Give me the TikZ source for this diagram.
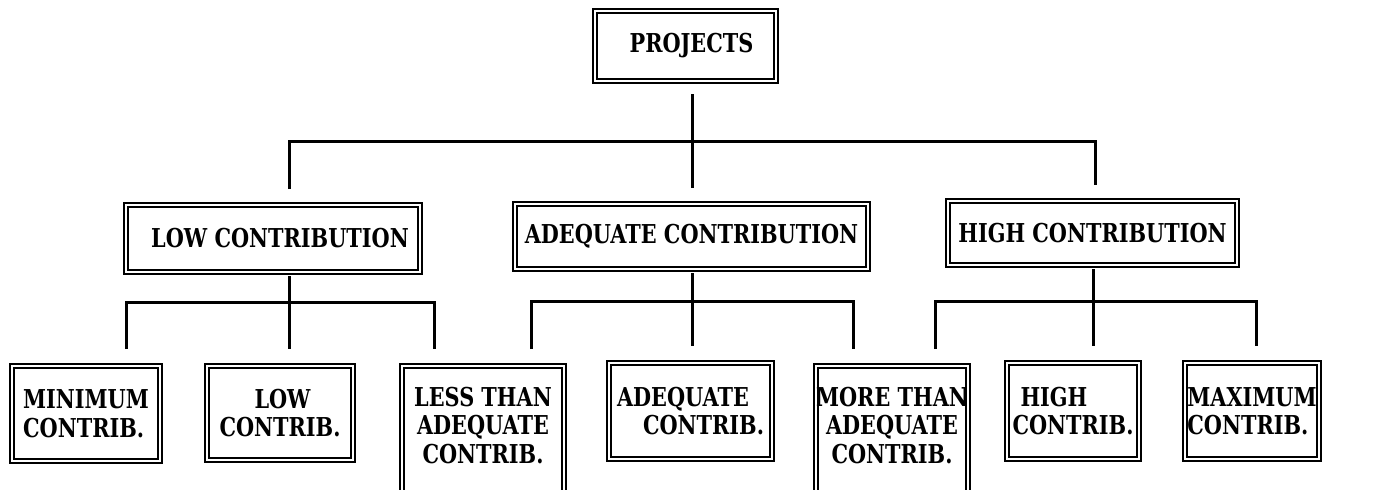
\documentclass[tikz,border=0pt]{standalone}
\usepackage{fontspec}
\newfontfamily\boxfont[FakeStretch=0.8]{DejaVu Serif}
\tikzset{
  box/.style={draw=black, line width=2pt, double=white, double distance=2.3pt,
    inner sep=0pt, align=center,
    font=\boxfont\bfseries\fontsize{26}{28.5}\selectfont},
  conn/.style={line width=3pt, black},
}
\begin{document}
\begin{tikzpicture}[x=1pt,y=-1pt]
\useasboundingbox (0,0) rectangle (1374,490);
% boxes
\node[box, minimum width=181pt, minimum height=70pt] (proj) at (685.5,46) {\hspace*{12pt}PROJECTS};
\node[box, minimum width=294pt, minimum height=67pt] (low) at (273,238.5) {\hspace*{14pt}LOW CONTRIBUTION};
\node[box, minimum width=353pt, minimum height=65pt] (adeq) at (691.5,236.5) {ADEQUATE CONTRIBUTION};
\node[box, minimum width=289pt, minimum height=64pt] (high) at (1092.5,233) {HIGH CONTRIBUTION};
\node[box, align=left, minimum width=148pt, minimum height=95pt] (min) at (86,413.5) {MINIMUM\\CONTRIB.};
\node[box, align=left, minimum width=146pt, minimum height=94pt] (lowc) at (280,413) {\hspace*{35pt}LOW\\CONTRIB.};
\node[box, minimum width=162pt, minimum height=139pt] (less) at (483,435.5) {LESS THAN\\ADEQUATE\\CONTRIB.\\[-7.5pt]\mbox{}};
\node[box, align=left, minimum width=163pt, minimum height=96pt] (adeqc) at (690.5,411) {ADEQUATE\\\hspace*{26pt}CONTRIB.};
\node[box, minimum width=146pt, minimum height=139pt] (more) at (892,435.5) {MORE THAN\\ADEQUATE\\CONTRIB.\\[-7.5pt]\mbox{}};
\node[box, align=left, minimum width=132pt, minimum height=96pt] (highc) at (1073,411) {\hspace*{8pt}HIGH\\CONTRIB.};
\node[box, align=left, minimum width=134pt, minimum height=96pt] (maxc) at (1252,411) {MAXIMUM\\CONTRIB.};
% junction coordinates
\coordinate (s0) at (692,141);
\coordinate (hl) at (289,141);
\coordinate (hr) at (1095,141);
\coordinate (la) at (126,302);
\coordinate (lb) at (289,302);
\coordinate (lc) at (434,302);
\coordinate (aa) at (531,301);
\coordinate (ab) at (692,301);
\coordinate (ac) at (853,301);
\coordinate (ha) at (935,301);
\coordinate (hb) at (1093,301);
\coordinate (hc) at (1256,301);
% top level
\draw[conn, shorten <=12pt, shorten >=15pt] (s0 |- proj.south) -- (s0 |- adeq.north);
\draw[conn, shorten <=15pt, shorten >=15pt] (hl |- low.north) -- (hl) -- (hr) -- (hr |- high.north);
% low group
\draw[conn, shorten <=3pt] (lb |- low.south) -- (lb);
\draw[conn, shorten <=16pt, shorten >=16pt] (la |- min.north) -- (la) -- (lc) -- (lc |- less.north);
\draw[conn, shorten >=16pt] (lb) -- (lb |- lowc.north);
% adequate group
\draw[conn, shorten <=3pt] (ab |- adeq.south) -- (ab);
\draw[conn, shorten <=16pt, shorten >=16pt] (aa |- less.north) -- (aa) -- (ac) -- (ac |- more.north);
\draw[conn, shorten >=16pt] (ab) -- (ab |- adeqc.north);
% high group
\draw[conn, shorten <=3pt] (hb |- high.south) -- (hb);
\draw[conn, shorten <=16pt, shorten >=16pt] (ha |- more.north) -- (ha) -- (hc) -- (hc |- maxc.north);
\draw[conn, shorten >=16pt] (hb) -- (hb |- highc.north);
\end{tikzpicture}
\end{document}
